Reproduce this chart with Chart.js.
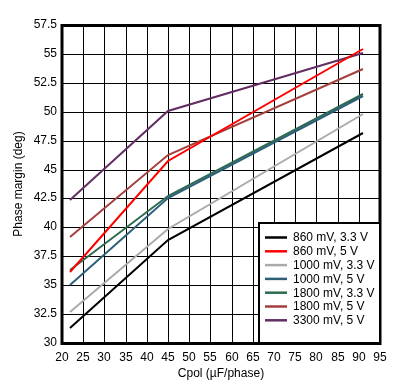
<!DOCTYPE html>
<html>
<head>
<meta charset="utf-8">
<script src="https://cdn.jsdelivr.net/npm/chart.js@4/dist/chart.umd.min.js"></script>
<style>
  html, body { margin: 0; padding: 0; background: #fff; }
  canvas { display: block; }
</style>
</head>
<body>
<canvas id="pmChart" width="403" height="391"></canvas>
<script>
// Phase margin vs Cpol
var cpol = [22, 45, 91];
var pm860_33 = [31.3, 38.9, 48.2];
var pm860_5 = [36.1, 45.7, 55.4];
var pm1000_33 = [32.7, 39.9, 49.8];
var pm1000_5 = [35.0, 42.5, 51.4];
var pm1800_33 = [36.3, 42.7, 51.5];
var pm1800_5 = [39.2, 46.3, 53.7];
var pm3300_5 = [42.4, 50.1, 55.1];

var seriesLabels = ['860 mV, 3.3 V', '860 mV, 5 V', '1000 mV, 3.3 V', '1000 mV, 5 V',
                    '1800 mV, 3.3 V', '1800 mV, 5 V', '3300 mV, 5 V'];
var seriesValues = [pm860_33, pm860_5, pm1000_33, pm1000_5, pm1800_33, pm1800_5, pm3300_5];
var seriesColors = ['#000000', '#ff0000', '#aaaaaa', '#2e5f7a', '#2e6b4e', '#a3403d', '#632e63'];

function toPoints(vals) {
    return vals.map(function (v, i) { return { x: cpol[i], y: v }; });
}

var datasets = seriesValues.map(function (vals, i) {
    return {
        label: seriesLabels[i],
        data: toPoints(vals),
        borderColor: seriesColors[i],
        backgroundColor: seriesColors[i],
        borderWidth: 2,
        pointRadius: 0,
        tension: 0,
        fill: false
    };
});

// frame around the plot plus the boxed legend in the lower right
var frameAndLegend = {
    id: 'frameAndLegend',
    afterDraw: function (chart) {
        var ctx = chart.ctx;
        var a = chart.chartArea;
        ctx.save();
        ctx.strokeStyle = '#000';
        ctx.lineWidth = 3;
        ctx.strokeRect(Math.round(a.left), Math.round(a.top) + 0.5,
                       Math.round(a.right - a.left), Math.round(a.bottom - a.top));

        var bx = 259, by = 223, bw = Math.round(a.right) - bx, bh = Math.round(a.bottom) - by;
        ctx.fillStyle = '#fff';
        ctx.fillRect(bx, by, bw, bh);
        ctx.lineWidth = 2;
        ctx.strokeRect(bx, by, bw, bh);

        ctx.font = '12px "Liberation Sans", Arial, sans-serif';
        ctx.textBaseline = 'middle';
        ctx.textAlign = 'left';
        chart.data.datasets.forEach(function (ds, i) {
            var y = 237.5 + i * 13.8;
            ctx.strokeStyle = ds.borderColor;
            ctx.lineWidth = 2.5;
            ctx.beginPath();
            ctx.moveTo(265, y);
            ctx.lineTo(287, y);
            ctx.stroke();
            ctx.fillStyle = '#000';
            ctx.fillText(ds.label, 293, y + 0.5);
        });
        ctx.restore();
    }
};

var fontSpec = { family: '"Liberation Sans", Arial, sans-serif', size: 12 };

var pmChart = new Chart(document.getElementById('pmChart').getContext('2d'), {
    type: 'line',
    data: { datasets: datasets },
    options: {
        responsive: false,
        animation: false,
        layout: { padding: { top: 25, right: 23, left: 0, bottom: 0 } },
        scales: {
            x: {
                type: 'linear',
                min: 20,
                max: 95,
                alignToPixels: true,
                afterFit: function (scale) { scale.height = 48; },
                ticks: { stepSize: 5, color: '#000', font: fontSpec, padding: 7, maxRotation: 0 },
                grid: { color: '#000', lineWidth: 1, drawTicks: false },
                border: { display: false },
                title: { display: true, text: 'Cpol (µF/phase)', color: '#000', font: fontSpec, padding: { top: 0, bottom: 10 } }
            },
            y: {
                min: 30,
                max: 57.5,
                alignToPixels: true,
                afterFit: function (scale) { scale.width = 62; },
                ticks: { stepSize: 2.5, color: '#000', font: fontSpec, padding: 5 },
                grid: { color: '#000', lineWidth: 1, drawTicks: false },
                border: { display: false },
                title: { display: true, text: 'Phase margin (deg)', color: '#000', font: fontSpec, padding: { top: 11, bottom: 0 } }
            }
        },
        plugins: {
            legend: { display: false },
            tooltip: { enabled: false },
            title: { display: false }
        }
    },
    plugins: [frameAndLegend]
});
</script>
</body>
</html>
